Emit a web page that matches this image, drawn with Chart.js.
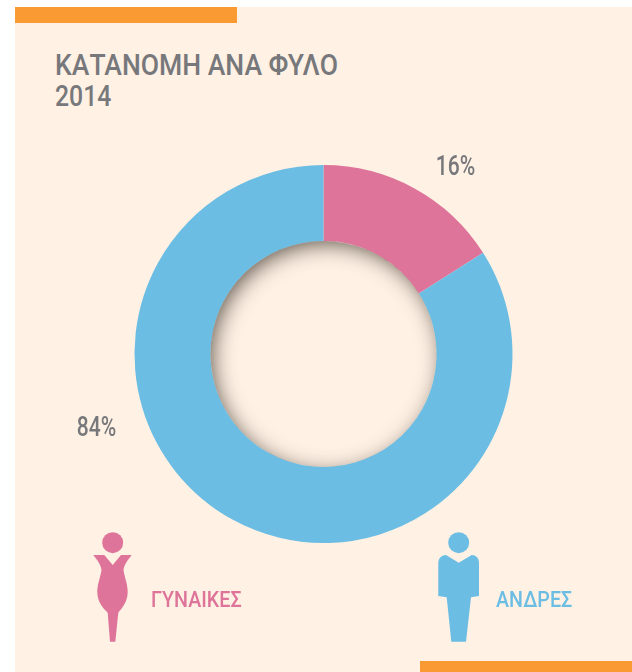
<!DOCTYPE html>
<html lang="el">
<head>
<meta charset="utf-8">
<title>ΚΑΤΑΝΟΜΗ ΑΝΑ ΦΥΛΟ 2014</title>
<script src="https://cdn.jsdelivr.net/npm/chart.js@4"></script>
<style>
  html,body{margin:0;padding:0;background:#fff;}
  body{width:632px;height:672px;overflow:hidden;position:relative;}
  #panel{position:absolute;left:15px;top:7px;width:617px;height:665px;background:#FFF1E4;}
  .bar{position:absolute;background:#FA9A33;}
  #barTop{left:15px;top:7px;width:222px;height:16px;}
  #barBottom{left:420px;top:661px;width:212px;height:11px;}
  #wrap{position:absolute;left:0;top:0;width:632px;height:672px;}
  .titleLine{position:absolute;left:55px;font:500 30px/31px Roboto,sans-serif;color:#77787B;white-space:pre;transform-origin:0 0;}
  #title0{top:49px;transform:scaleX(.885);}
  #title1{top:80px;transform:scaleX(.826);}
  svg{position:absolute;left:0;top:0;}
</style>
</head>
<body>
<div id="panel"></div>
<div class="bar" id="barTop"></div>
<div class="bar" id="barBottom"></div>
<div class="titleLine" id="title0"></div>
<div class="titleLine" id="title1"></div>
<svg width="632" height="672" viewBox="0 0 632 672">
  <g fill="#DE7499">
    <circle cx="112.7" cy="542.7" r="10.5"/>
    <path d="M93.3 555H104.3L112.7 565L121 555H131.7C127 561 124 565 123.5 570C124.5 577 127.7 584 127.7 592C127.7 602 122 608 118.3 612.7L115.3 641.7H110L107.7 612.7C103 608 97.3 602 97.3 592C97.3 584 100.5 577 101.5 570C101 565 98 561 93.3 555Z"/>
  </g>
  <g fill="#6BBDE3">
    <circle cx="458.7" cy="542.7" r="10.5"/>
    <path d="M438.3 563.3C438.3 558 442 555 446 555L458.7 562.7L471.7 555C476 555 479 558 479 563.3V596L471 597.3L466 641.7H451.3L446.7 597.3L438.3 596Z"/>
  </g>
</svg>
<div id="wrap"><canvas id="c" width="632" height="672"></canvas></div>
<script>
const titleLines = ['ΚΑΤΑΝΟΜΗ ΑΝΑ ΦΥΛΟ', '2014'];
const categories = ['ΓΥΝΑΙΚΕΣ', 'ΑΝΔΡΕΣ'];
const shares = [16, 84];
const sliceColors = ['#DE7499', '#6BBDE3'];
const valueLabelAnchors = [[455.5, 174.5], [96.5, 435.5]];
const legendAnchors = [[151, 607], [496, 607]];
const valueTextSquash = 0.78;
const legendTextSquash = 0.895;

titleLines.forEach((t, i) => { document.getElementById('title' + i).textContent = t; });

const innerShadow = {
  id: 'innerShadow',
  afterDatasetsDraw(chart) {
    const arc = chart.getDatasetMeta(0).data[0];
    const {x, y, innerRadius: r} = arc;
    const ctx = chart.ctx;
    ctx.save();
    ctx.beginPath();
    ctx.arc(x, y, r, 0, Math.PI * 2);
    ctx.clip();
    ctx.shadowColor = 'rgba(60,52,44,0.85)';
    ctx.shadowBlur = 22;
    ctx.shadowOffsetX = 4;
    ctx.shadowOffsetY = 5;
    ctx.fillStyle = '#000';
    ctx.beginPath();
    ctx.rect(x - r - 60, y - r - 60, 2 * r + 120, 2 * r + 120);
    ctx.arc(x, y, r + 3, 0, Math.PI * 2, true);
    ctx.fill('evenodd');
    ctx.restore();
  }
};

function squashedText(ctx, text, x, y, k) {
  ctx.save();
  ctx.translate(x, y);
  ctx.scale(k, 1);
  ctx.fillText(text, 0, 0);
  ctx.restore();
}

const textLabels = {
  id: 'textLabels',
  afterDraw(chart) {
    const ctx = chart.ctx;
    ctx.save();
    ctx.textBaseline = 'alphabetic';
    ctx.font = '500 27px Roboto, sans-serif';
    ctx.fillStyle = '#77787B';
    ctx.textAlign = 'center';
    shares.forEach((v, i) => squashedText(ctx, v + '%', valueLabelAnchors[i][0], valueLabelAnchors[i][1], valueTextSquash));
    ctx.font = '500 22px Roboto, sans-serif';
    ctx.textAlign = 'left';
    categories.forEach((c, i) => {
      ctx.fillStyle = sliceColors[i];
      squashedText(ctx, c, legendAnchors[i][0], legendAnchors[i][1], legendTextSquash);
    });
    ctx.restore();
  }
};

new Chart(document.getElementById('c'), {
  type: 'doughnut',
  data: {
    labels: categories,
    datasets: [{data: shares, backgroundColor: sliceColors, borderWidth: 0}]
  },
  options: {
    responsive: false,
    animation: false,
    cutout: '59.8%',
    layout: {padding: {left: 15, right: 0, top: 165, bottom: 129}},
    plugins: {legend: {display: false}, title: {display: false}, tooltip: {enabled: false}}
  },
  plugins: [innerShadow, textLabels]
});
</script>
</body>
</html>
